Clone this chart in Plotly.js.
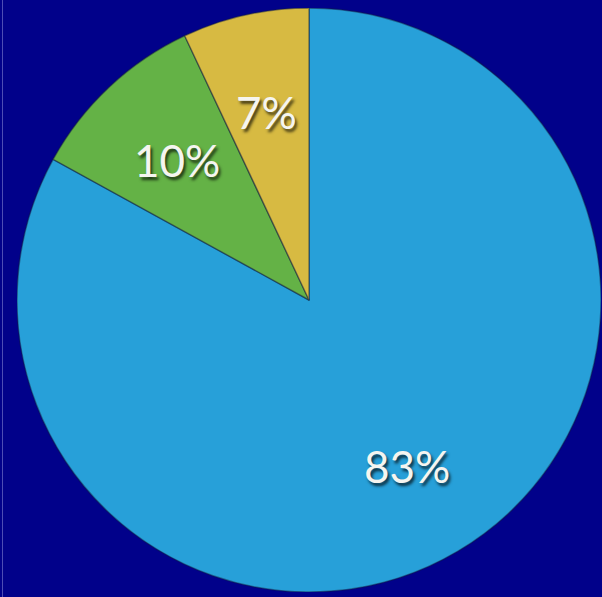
<!DOCTYPE html>
<html>
<head>
<meta charset="utf-8">
<script src="https://cdn.plot.ly/plotly-3.0.1.min.js"></script>
<style>
  html, body { margin: 0; padding: 0; width: 602px; height: 597px; overflow: hidden; background: #01018a; }
  #edge { position: absolute; left: 2px; top: 0; width: 1px; height: 597px; background: rgba(140,140,215,0.55); }
  #chart { position: absolute; left: 17px; top: 8px; width: 584px; height: 584px; }
</style>
</head>
<body>
<div id="edge"></div>
<div id="chart"></div>
<script>
// Share of each group in percent, laid out clockwise from 12 o'clock
const categories = ["Blue", "Green", "Yellow"];
const shares = [83, 10, 7];
const sliceColors = ["#27a0d9", "#64b246", "#d7ba42"];
const labelTexts = shares.map(v => v + "%");

const labelFont = {
  family: "Lato, 'Open Sans', sans-serif",
  size: 44,
  color: "#f5f5f0",
  shadow: "2px 3px 3px rgba(0,0,0,0.7)"
};

const trace = {
  type: "pie",
  labels: categories,
  values: shares,
  sort: false,
  direction: "clockwise",
  rotation: 0,
  marker: { colors: sliceColors, line: { color: "rgba(20,30,60,0.45)", width: 1.5 } },
  textinfo: "none",
  hoverinfo: "none",
  showlegend: false,
  domain: { x: [0, 1], y: [0, 1] }
};

// Percent labels sit on each slice's bisector, about two thirds of the way out
const total = shares.reduce((a, b) => a + b, 0);
const labelRadius = 0.66;
let cumulative = 0;
const annotations = shares.map((v, i) => {
  const mid = (cumulative + v / 2) / total * 2 * Math.PI;
  cumulative += v;
  return {
    xref: "paper", yref: "paper",
    x: 0.5 + 0.5 * labelRadius * Math.sin(mid),
    y: 0.5 + 0.5 * labelRadius * Math.cos(mid),
    xanchor: "center", yanchor: "middle",
    text: labelTexts[i],
    showarrow: false,
    font: labelFont
  };
});

const layout = {
  width: 584,
  height: 584,
  margin: { l: 0, r: 0, t: 0, b: 0, pad: 0 },
  paper_bgcolor: "rgba(0,0,0,0)",
  plot_bgcolor: "rgba(0,0,0,0)",
  showlegend: false,
  annotations: annotations
};

Plotly.newPlot("chart", [trace], layout, { staticPlot: true, displayModeBar: false });
</script>
</body>
</html>
